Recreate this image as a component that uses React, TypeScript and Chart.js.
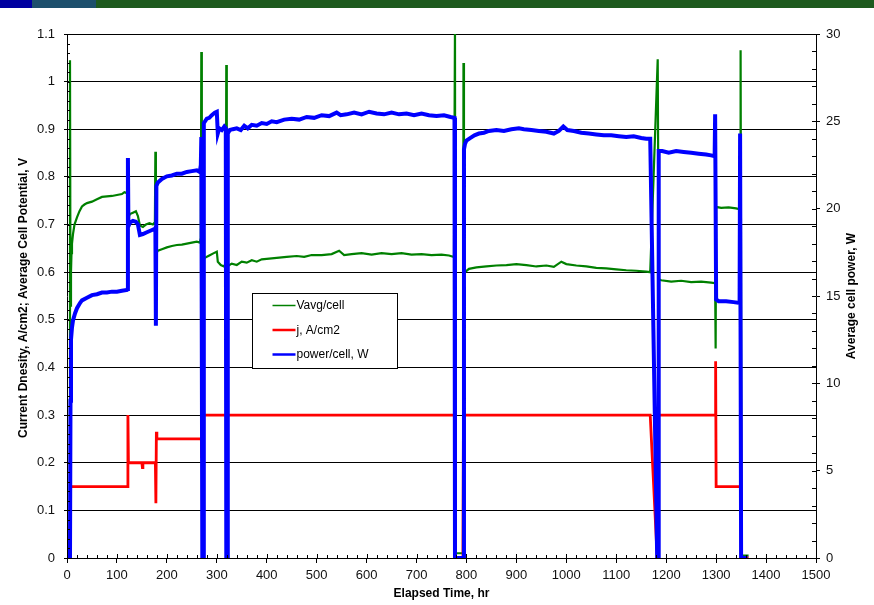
import React, { useEffect, useRef } from "react";
import { Chart, registerables } from "chart.js";

Chart.register(...registerables);

const FONT = '"Liberation Sans", Arial, sans-serif';

// ---- Data ----
// Vavg/cell, V  (left axis)
const vavgHours = [
  0, 5, 6, 7, 8, 9, 10, 12, 15, 20, 25, 30, 35, 40, 50, 60, 70, 80, 90, 100, 110, 115, 120, 122, 123,
  126, 132, 138, 142, 146, 152, 158, 165, 172, 176, 177, 178, 179, 182, 190, 200, 210, 220, 230, 240,
  250, 260, 266, 268, 269, 270, 272, 276, 285, 294, 300, 302, 308, 314, 318, 319, 320, 322, 330, 340,
  350, 360, 370, 380, 390, 400, 420, 440, 460, 475, 490, 510, 530, 545, 555, 570, 590, 610, 630, 650,
  670, 690, 710, 730, 750, 765, 775, 777, 778, 793, 794, 795, 797, 805, 820, 840, 860, 880, 900, 920,
  940, 960, 975, 990, 1000, 1020, 1040, 1060, 1080, 1100, 1120, 1140, 1160, 1168, 1183, 1185, 1190,
  1210, 1230, 1250, 1270, 1290, 1298, 1299, 1300, 1310, 1325, 1340, 1347, 1348, 1349, 1351, 1365,
];
const vavgValues = [
  0.005, 0.005, 1.045, 0.53, 0.6, 0.64, 0.66, 0.68, 0.7, 0.715, 0.728, 0.738, 0.742, 0.745, 0.748, 0.753,
  0.758, 0.759, 0.76, 0.762, 0.764, 0.768, 0.766, 0.768, 0.715,
  0.722, 0.725, 0.728, 0.718, 0.698, 0.695, 0.7, 0.703, 0.7, 0.705, 0.853, 0.628, 0.64, 0.645, 0.648,
  0.652, 0.655, 0.657, 0.658, 0.66,
  0.662, 0.664, 0.662, 0.672, 1.062, 0.51, 0.625, 0.63, 0.635, 0.64, 0.643, 0.622, 0.615, 0.612, 0.618,
  1.035, 0.6, 0.613, 0.618, 0.615,
  0.622, 0.62, 0.625, 0.622, 0.627, 0.628, 0.63, 0.632, 0.634, 0.632, 0.636, 0.636, 0.638, 0.645, 0.636,
  0.638, 0.64, 0.637, 0.64, 0.638,
  0.64, 0.637, 0.638, 0.636, 0.637, 0.635, 0.632, 1.12, 0.01, 0.01, 1.039, 0.59, 0.6, 0.607, 0.61, 0.612,
  0.614, 0.615, 0.617, 0.615,
  0.612, 0.614, 0.611, 0.622, 0.617, 0.614, 0.612, 0.609, 0.608, 0.606, 0.604, 0.603, 0.601, 0.6, 1.047,
  0.585, 0.583,
  0.58, 0.582, 0.579, 0.58, 0.578, 0.577, 0.44, 0.737, 0.735, 0.736, 0.734, 0.732, 0.485, 1.066, 0.005,
  0.005,
];

// j, A/cm2 (left axis)
const jHours = [
  0, 6, 7, 121, 122, 123, 150, 151, 152, 177, 178, 179, 180, 269, 270, 271, 272, 777, 778, 793, 794,
  1168, 1182, 1184, 1298, 1299, 1300, 1348, 1349, 1350, 1365,
];
const jValues = [
  0, 0, 0.15, 0.15, 0.3, 0.2, 0.2, 0.19, 0.2, 0.2, 0.115, 0.265, 0.25, 0.25, 0.21, 0.335, 0.3, 0.3, 0,
  0, 0.3, 0.3, 0, 0.3, 0.3, 0.413, 0.15, 0.15, 0.378, 0, 0,
];

// power/cell, W (right axis)
const powerHours = [
  0, 6, 7, 8, 10, 12, 16, 20, 26, 30, 40, 50, 60, 70, 80, 90, 100, 110, 120, 121, 122, 123, 126, 132,
  138, 142, 146, 152, 160, 168, 176, 177, 178, 179, 182, 190, 200, 210, 220, 230, 240, 250, 260, 266,
  268, 269, 271, 273, 274, 280, 285, 290, 296, 300, 302, 305, 310, 315, 318, 319, 321, 322, 326, 332,
  340, 348, 355, 362, 370, 380, 390, 400, 410, 420, 435, 450, 465, 480, 495, 510, 525, 540, 548, 560,
  575, 590, 605, 620, 635, 650, 665, 680, 695, 710, 725, 740, 755, 768, 776, 777, 794, 795, 797, 800,
  808, 816, 825, 835, 845, 860, 875, 890, 905, 915, 930, 945, 960, 975, 985, 994, 1002, 1015, 1030,
  1045, 1060, 1075, 1090, 1105, 1120, 1135, 1150, 1160, 1168, 1182, 1184, 1185, 1192, 1205, 1220, 1235,
  1250, 1265, 1280, 1290, 1297, 1298, 1300, 1305, 1320, 1335, 1347, 1348, 1350, 1363,
];
const powerValues = [
  0, 0, 9.0, 12.5, 13.2, 13.6, 14.0, 14.3, 14.6, 14.75, 14.9, 15.05, 15.1, 15.2, 15.2, 15.25, 15.25,
  15.3, 15.35, 15.4, 22.9, 19.0, 19.2, 19.3,
  19.25, 19.1, 18.5, 18.55, 18.65, 18.75, 18.85, 18.9, 13.3, 21.3, 21.5, 21.7, 21.85, 21.9, 22.0, 22.0,
  22.1, 22.15, 22.2, 22.1,
  22.5, 24.1, 0, 0, 24.9, 25.15, 25.2, 25.35, 25.5, 25.55, 24.3, 24.6, 24.5, 24.7, 24.6, 0, 0, 24.3,
  24.5, 24.55,
  24.6, 24.5, 24.75, 24.6, 24.8, 24.75, 24.9, 24.85, 25.0, 24.95, 25.1, 25.15, 25.1, 25.25, 25.2, 25.35,
  25.3, 25.5, 25.35, 25.4,
  25.5, 25.4, 25.55, 25.45, 25.4, 25.5, 25.4, 25.45, 25.35, 25.45, 25.35, 25.3, 25.35, 25.25, 25.2, 0,
  0, 23.4, 23.7, 23.9,
  24.05, 24.2, 24.3, 24.35, 24.45, 24.5, 24.45, 24.55, 24.6, 24.55, 24.5, 24.45, 24.4, 24.3, 24.45, 24.7,
  24.5, 24.45, 24.35,
  24.3, 24.25, 24.2, 24.2, 24.15, 24.1, 24.15, 24.05, 24.0, 24.0, 0, 0, 23.3, 23.3, 23.2, 23.3, 23.25,
  23.2, 23.15, 23.1, 23.05, 23.0, 25.4, 14.8, 14.7, 14.7, 14.65, 14.6, 24.3, 0, 0,
];

const seriesLabels = ["Vavg/cell", "j, A/cm2", "power/cell, W"];
const seriesColors = ["#008000", "#ff0000", "#0000ff"];
const legendLineWidths = [1.5, 2.5, 2.5];

const leftTitle = "Current Dnesity, A/cm2; Average Cell Potential, V";
const rightTitle = "Average cell power, W";
const bottomTitle = "Elapsed Time, hr";

const toPoints = (xs: number[], ys: number[]) => xs.map((x, i) => ({ x, y: ys[i] }));

const decorPlugin = {
  id: "decor",
  afterDatasetsDraw(chart: any) {
    const ctx = chart.ctx;
    const area = chart.chartArea;
    const sx = chart.scales.x;
    const sy = chart.scales.y;
    const sy2 = chart.scales.y2;
    ctx.save();
    ctx.strokeStyle = "#000";
    ctx.lineWidth = 1;
    ctx.beginPath();
    // x minor/major inward ticks
    for (let v = 0; v <= 1500; v += 20) {
      const px = Math.round(sx.getPixelForValue(v)) + 0.5;
      const len = v % 100 === 0 ? 4 : 3;
      ctx.moveTo(px, area.bottom);
      ctx.lineTo(px, area.bottom - len);
    }
    // left inward ticks
    for (let i = 0; i <= 55; i++) {
      const v = i * 0.02;
      const py = Math.round(sy.getPixelForValue(v)) + 0.5;
      ctx.moveTo(area.left, py);
      ctx.lineTo(area.left + 3, py);
    }
    // right inward ticks
    for (let v = 0; v <= 30; v += 1) {
      const py = Math.round(sy2.getPixelForValue(v)) + 0.5;
      ctx.moveTo(area.right, py);
      ctx.lineTo(area.right - 4, py);
    }
    ctx.stroke();
    ctx.restore();
  },
  afterDraw(chart: any) {
    const ctx = chart.ctx;
    const area = chart.chartArea;
    const cy = (area.top + area.bottom) / 2;
    const cx = (area.left + area.right) / 2;
    ctx.save();
    ctx.fillStyle = "#000";
    ctx.font = `bold 12px ${FONT}`;
    ctx.textAlign = "center";
    ctx.textBaseline = "middle";
    // left title
    ctx.save();
    ctx.translate(area.left - 43, cy + 2);
    ctx.rotate(-Math.PI / 2);
    ctx.fillText(leftTitle, 0, 0);
    ctx.restore();
    // right title
    ctx.save();
    ctx.translate(area.right + 36, cy);
    ctx.rotate(-Math.PI / 2);
    ctx.fillText(rightTitle, 0, 0);
    ctx.restore();
    // bottom title
    ctx.fillText(bottomTitle, cx, area.bottom + 36);

    // legend box
    const lx = area.left + 185.5;
    const ly = area.top + 259.5;
    const lw = 145;
    const lh = 75;
    ctx.fillStyle = "#fff";
    ctx.fillRect(lx, ly, lw, lh);
    ctx.strokeStyle = "#000";
    ctx.lineWidth = 1;
    ctx.strokeRect(lx, ly, lw, lh);
    ctx.font = `12px ${FONT}`;
    ctx.textAlign = "left";
    seriesLabels.forEach((label, i) => {
      const rowY = ly + 12 + i * 24.5;
      ctx.strokeStyle = seriesColors[i];
      ctx.lineWidth = legendLineWidths[i];
      ctx.beginPath();
      ctx.moveTo(lx + 20, rowY);
      ctx.lineTo(lx + 43, rowY);
      ctx.stroke();
      ctx.fillStyle = "#000";
      ctx.fillText(label, lx + 44, rowY + 0.5);
    });
    ctx.restore();
  },
};

export default function App() {
  const canvasRef = useRef<HTMLCanvasElement | null>(null);

  useEffect(() => {
    const canvas = canvasRef.current;
    if (!canvas) return;
    const tickFont = { family: FONT, size: 13 };
    const chart = new Chart(canvas, {
      type: "line",
      data: {
        datasets: [
          {
            label: seriesLabels[0],
            data: toPoints(vavgHours, vavgValues),
            borderColor: seriesColors[0],
            borderWidth: 2.2,
            yAxisID: "y",
            order: 2,
          },
          {
            label: seriesLabels[1],
            data: toPoints(jHours, jValues),
            borderColor: seriesColors[1],
            borderWidth: 2.8,
            yAxisID: "y",
            order: 1,
          },
          {
            label: seriesLabels[2],
            data: toPoints(powerHours, powerValues),
            borderColor: seriesColors[2],
            borderWidth: 4,
            yAxisID: "y2",
            order: 0,
          },
        ],
      },
      options: {
        responsive: false,
        animation: false,
        devicePixelRatio: 1,
        parsing: true,
        elements: {
          point: { radius: 0, hoverRadius: 0 },
          line: { tension: 0, borderJoinStyle: "miter" },
        },
        layout: { padding: { top: 34, left: 0, right: 0, bottom: 0 } },
        plugins: {
          legend: { display: false },
          tooltip: { enabled: false },
          title: { display: false },
        },
        scales: {
          x: {
            type: "linear",
            min: 0,
            max: 1500,
            ticks: {
              stepSize: 100,
              autoSkip: false,
              maxRotation: 0,
              font: tickFont,
              color: "#111",
              padding: 5,
              callback: (v: any) => String(v),
            },
            grid: {
              display: true,
              drawOnChartArea: false,
              drawTicks: true,
              tickLength: 5,
              tickColor: "#000",
              color: "#000",
            },
            border: { display: true, color: "#000", width: 1 },
            afterFit: (s: any) => {
              s.height = 47;
            },
          },
          y: {
            type: "linear",
            position: "left",
            min: 0,
            max: 1.1,
            ticks: {
              stepSize: 0.1,
              font: tickFont,
              color: "#111",
              padding: 9,
              callback: (v: any) => String(Math.round(Number(v) * 10) / 10),
            },
            grid: {
              color: "#000",
              lineWidth: 1,
              tickLength: 3,
              tickColor: "#000",
            },
            border: { display: true, color: "#000", width: 1 },
            afterFit: (s: any) => {
              s.width = 67;
            },
          },
          y2: {
            type: "linear",
            position: "right",
            min: 0,
            max: 30,
            ticks: {
              stepSize: 5,
              font: tickFont,
              color: "#111",
              padding: 6,
              callback: (v: any) => String(v),
            },
            grid: {
              drawOnChartArea: false,
              tickLength: 4,
              tickColor: "#000",
              color: "#000",
            },
            border: { display: true, color: "#000", width: 1 },
            afterFit: (s: any) => {
              s.width = 58;
            },
          },
        },
      },
      plugins: [decorPlugin],
    } as any);
    return () => chart.destroy();
  }, []);

  return (
    <div
      style={{
        position: "absolute",
        left: 0,
        top: 0,
        width: 874,
        height: 605,
        background: "#fff",
      }}
    >
      <div style={{ position: "absolute", left: 0, top: 0, width: 32, height: 8, background: "#0000a0" }} />
      <div style={{ position: "absolute", left: 32, top: 0, width: 64, height: 8, background: "#1d4f6c" }} />
      <div style={{ position: "absolute", left: 96, top: 0, width: 778, height: 8, background: "#1e5a1e" }} />
      <canvas
        ref={canvasRef}
        width={874}
        height={605}
        style={{ position: "absolute", left: 0, top: 0, width: 874, height: 605 }}
      />
    </div>
  );
}
